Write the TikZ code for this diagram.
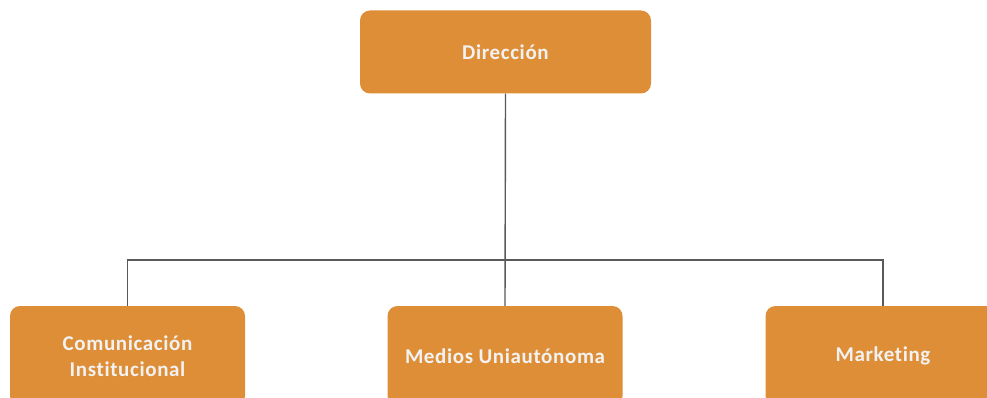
\documentclass[tikz,border=0pt]{standalone}
\usepackage{fontspec}
\setmainfont[Ligatures=NoCommon,LetterSpace=3]{Carlito}
\usepackage{tikz}
\usetikzlibrary{positioning}
\usepackage{xcolor}
\definecolor{naranja}{HTML}{DE8E37}
\definecolor{texto}{HTML}{F2F2F2}
\definecolor{linea}{HTML}{595959}
\tikzset{
	caja/.style={draw=none, fill=naranja, rounded corners=10pt, text=texto,
		font=\fontsize{21}{26}\selectfont\bfseries, align=center},
	cajasup/.style={caja, minimum width=291pt, minimum height=83pt},
	cajainf/.style={caja, minimum width=235pt, minimum height=100pt},
	conector/.style={draw=linea, line width=1.4pt}
}
\begin{document}
\begin{tikzpicture}[x=1pt,y=-1pt]
		\useasboundingbox (0,0) rectangle (987,398);
		\def\yb{356} % centro de las cajas inferiores
		\node[cajasup] (dir) at (505.5,52) {Direcci\'on};
		\node[cajainf] (com) at (127.5,\yb) {Comunicaci\'on\\Institucional};
		\node[cajainf] (med) at (505,\yb) {Medios Uniaut\'onoma};
		\node[cajainf] (mkt) at (883,\yb) {Marketing};
		\coordinate (bus) at (505,260); % linea horizontal
		\draw[conector] (dir.south) -- (med.north);
		\draw[conector] (com.north) |- (bus) -| (mkt.north);
		\end{tikzpicture}
\end{document}
